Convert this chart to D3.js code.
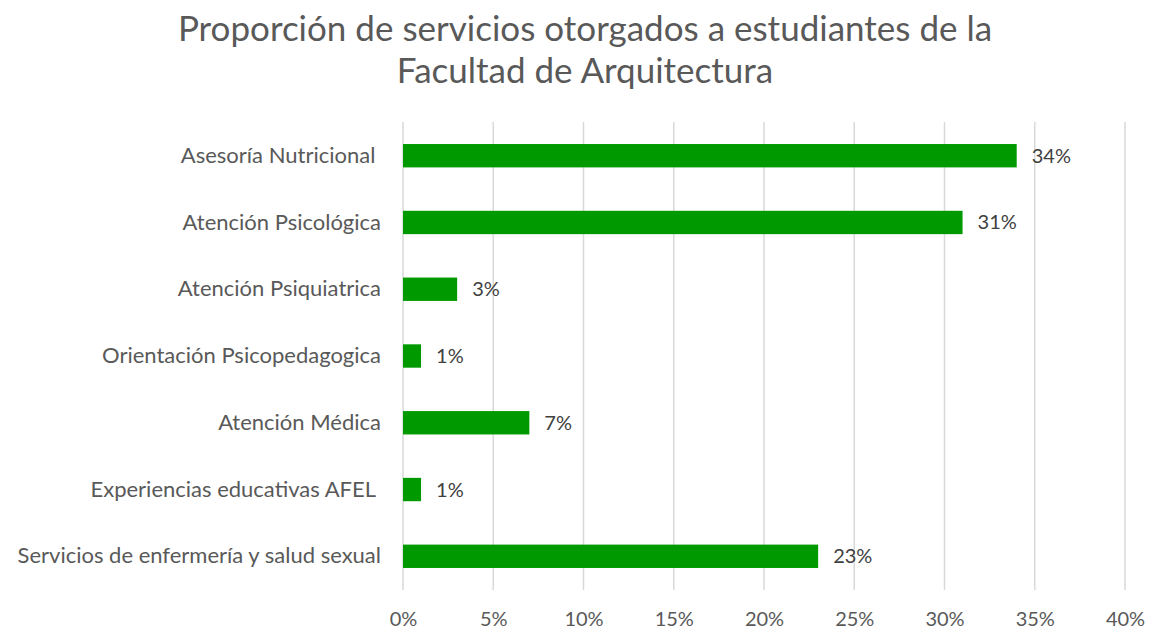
<!DOCTYPE html>
<html>
<head>
<meta charset="utf-8">
<script src="https://cdn.jsdelivr.net/npm/d3@7"></script>
<style>
  body { margin: 0; background: #fff; }
  text { font-family: Lato, "Open Sans", sans-serif; }
</style>
</head>
<body>
<div class="chart"></div>
<script>
const svgWidth = 1150,
  svgHeight = 633,
  barColor = '#009900',
  gridColor = '#d9d9d9',
  textColor = '#595959';

const categories = [
  'Asesoría Nutricional ',
  'Atención Psicológica',
  'Atención Psiquiatrica',
  'Orientación Psicopedagogica',
  'Atención Médica',
  'Experiencias educativas AFEL ',
  'Servicios de enfermería y salud sexual'
];
const values = [34, 31, 3, 1, 7, 1, 23];
const tickValues = [0, 5, 10, 15, 20, 25, 30, 35, 40];
const titleLines = ['Proporción de servicios otorgados a estudiantes de la', 'Facultad de Arquitectura'];

const svg = d3.select('.chart')
  .append('svg')
  .attr('width', svgWidth)
  .attr('height', svgHeight);

const xScale = d3.scaleLinear()
  .domain([0, 40])
  .range([403, 1125]);

const yScale = d3.scaleBand()
  .domain(categories)
  .range([122, 590])
  .paddingInner(0.65)
  .paddingOuter(0.33);

// title
svg.append('g')
  .selectAll('text')
  .data(titleLines)
  .enter()
  .append('text')
  .attr('x', 585)
  .attr('y', (d, i) => 41 + i * 42)
  .attr('text-anchor', 'middle')
  .attr('fill', textColor)
  .style('font-size', '35px')
  .text(d => d);

// gridlines
svg.append('g')
  .selectAll('line')
  .data(tickValues)
  .enter()
  .append('line')
  .attr('x1', d => xScale(d))
  .attr('x2', d => xScale(d))
  .attr('y1', 122)
  .attr('y2', 590)
  .attr('stroke', gridColor)
  .attr('stroke-width', 1.5);

// x axis
const xAxis = d3.axisBottom(xScale)
  .tickValues(tickValues)
  .tickFormat(d => d + '%')
  .tickSize(0)
  .tickPadding(22);

svg.append('g')
  .attr('transform', 'translate(0, 590)')
  .call(xAxis)
  .call(g => g.select('.domain').remove())
  .selectAll('text')
  .attr('fill', textColor)
  .style('font-size', '20px')
  .style('font-family', 'Lato, sans-serif');

// y axis
const yAxis = d3.axisLeft(yScale)
  .tickSize(0)
  .tickPadding(22);

svg.append('g')
  .attr('transform', 'translate(403, 0)')
  .call(yAxis)
  .call(g => g.select('.domain').remove())
  .selectAll('text')
  .attr('fill', textColor)
  .style('white-space', 'pre')
  .style('font-size', '22px')
  .style('font-family', 'Lato, sans-serif');

const rows = categories.map((c, i) => ({ category: c, value: values[i] }));

// bars
svg.append('g')
  .selectAll('rect')
  .data(rows)
  .enter()
  .append('rect')
  .attr('x', xScale(0))
  .attr('y', d => yScale(d.category))
  .attr('width', d => xScale(d.value) - xScale(0))
  .attr('height', yScale.bandwidth())
  .attr('fill', barColor);

// value labels
svg.append('g')
  .selectAll('text')
  .data(rows)
  .enter()
  .append('text')
  .attr('x', d => xScale(d.value) + 15)
  .attr('y', d => yScale(d.category) + yScale.bandwidth() / 2)
  .attr('dy', '0.35em')
  .attr('fill', '#404040')
  .style('font-size', '20px')
  .text(d => d.value + '%');
</script>
</body>
</html>
